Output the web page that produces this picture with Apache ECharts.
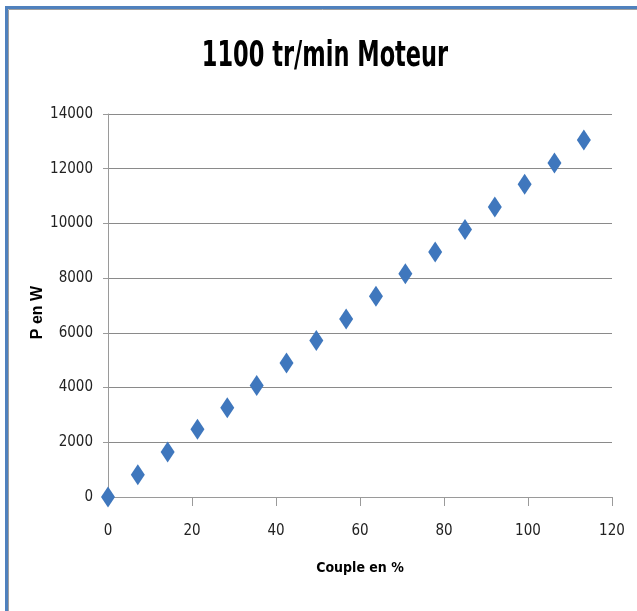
<!DOCTYPE html>
<html>
<head>
<meta charset="utf-8">
<script src="https://cdn.jsdelivr.net/npm/echarts@6/dist/echarts.min.js"></script>
<style>
  html, body { margin: 0; padding: 0; background: #fff; }
  #chart { width: 637px; height: 611px; }
</style>
</head>
<body>
<div id="chart"></div>
<script>
// couple (%) and puissance (W)
var couple = [0, 7.1, 14.2, 21.3, 28.4, 35.4, 42.5, 49.6, 56.7, 63.8, 70.8, 77.9, 85.0, 92.1, 99.2, 106.3, 113.3];
var puissance = [0, 810, 1645, 2480, 3260, 4080, 4900, 5720, 6510, 7340, 8165, 8960, 9775, 10600, 11430, 12210, 13050];
var xTicks = [0, 20, 40, 60, 80, 100, 120];
var yTicks = [0, 2000, 4000, 6000, 8000, 10000, 12000, 14000];
var titre = '1100 tr/min Moteur';

var narrow = '"DejaVu Sans Condensed", "DejaVu Sans", sans-serif';

var points = couple.map(function (c, i) { return [c, puissance[i]]; });

var option = {
    animation: false,
    grid: {
        left: 108,
        right: 25,
        top: 114,
        bottom: 114
    },
    xAxis: {
        type: 'value',
        min: xTicks[0],
        max: xTicks[xTicks.length - 1],
        interval: 20,
        name: 'Couple en %',
        nameLocation: 'middle',
        nameGap: 64,
        nameTextStyle: {
            fontFamily: narrow,
            fontWeight: 'bold',
            fontSize: 14,
            color: '#000'
        },
        axisLine: { lineStyle: { color: '#9a9a9a', width: 1 } },
        axisTick: { show: true, length: 9, lineStyle: { color: '#9a9a9a' } },
        axisLabel: {
            margin: 27,
            fontFamily: narrow,
            fontSize: 15,
            color: '#222',
            formatter: function (v) { return String(v); }
        },
        splitLine: { show: false }
    },
    yAxis: {
        type: 'value',
        min: yTicks[0],
        max: yTicks[yTicks.length - 1],
        interval: 2000,
        name: 'P en W',
        nameLocation: 'middle',
        nameRotate: 90,
        nameGap: 62,
        nameMoveOverlap: false,
        nameTextStyle: {
            fontFamily: '"Liberation Sans", Arial, sans-serif',
            fontWeight: 'bold',
            fontSize: 16,
            color: '#000',
            padding: [0, 14, 0, 0]
        },
        axisLine: { show: true, lineStyle: { color: '#9a9a9a', width: 1 } },
        axisTick: { show: true, length: 5, lineStyle: { color: '#9a9a9a' } },
        axisLabel: {
            margin: 15,
            fontFamily: narrow,
            fontSize: 15,
            color: '#222',
            formatter: function (v) { return String(v); }
        },
        splitLine: { show: true, lineStyle: { color: '#8a8a8a', width: 1 } }
    },
    series: [{
        type: 'scatter',
        data: points,
        symbol: 'diamond',
        symbolSize: [14, 21],
        itemStyle: { color: '#3f77bd', opacity: 1 }
    }],
    graphic: [
        { type: 'line', silent: true, shape: { x1: 8.5, y1: 9.5, x2: 637, y2: 9.5 }, style: { stroke: '#a0a0a0', lineWidth: 1 } },
        { type: 'line', silent: true, shape: { x1: 8.5, y1: 9.5, x2: 8.5, y2: 611 }, style: { stroke: '#a0a0a0', lineWidth: 1 } },
        { type: 'line', silent: true, shape: { x1: 5, y1: 7.5, x2: 637, y2: 7.5 }, style: { stroke: '#4f81bd', lineWidth: 3 } },
        { type: 'line', silent: true, shape: { x1: 6.5, y1: 6, x2: 6.5, y2: 611 }, style: { stroke: '#4f81bd', lineWidth: 3 } },
        // title, stretched vertically like the original
        {
            type: 'text',
            x: 325,
            y: 57,
            scaleX: 1,
            scaleY: 1.42,
            style: {
                text: titre,
                x: 0,
                y: 0,
                align: 'center',
                verticalAlign: 'middle',
                font: 'bold 25px "DejaVu Sans Condensed", "DejaVu Sans", sans-serif',
                fill: '#000'
            }
        }
    ]
};

var chart = echarts.init(document.getElementById('chart'), null, { renderer: 'canvas' });
chart.setOption(option);
</script>
</body>
</html>
